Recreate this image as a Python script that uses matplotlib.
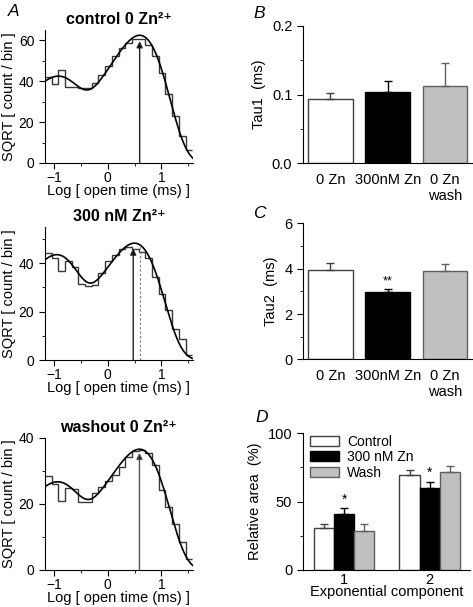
import numpy as np
import matplotlib
matplotlib.use("Agg")
import matplotlib.pyplot as plt
from matplotlib.patches import Patch
from matplotlib.ticker import MultipleLocator

plt.rcParams['font.family'] = ['Liberation Sans', 'DejaVu Sans']
plt.rcParams['font.size'] = 10

# --- dwell-time histograms (sqrt count / bin), 22 log bins ---
bin_start = -1.173
bin_width = 0.125
hist_control = [42.0, 38.5, 45.3, 37.2, 37.0, 36.8, 36.8, 38.9, 43.0, 47.2, 52.5,
                56.0, 58.5, 60.6, 60.6, 57.9, 52.5, 44.0, 33.5, 22.8, 13.0, 6.3]
hist_zn = [44.2, 41.9, 36.6, 41.0, 38.5, 31.5, 30.6, 30.9, 36.0, 40.8, 43.3,
           45.7, 46.7, 46.0, 44.6, 42.0, 34.3, 27.4, 20.5, 12.9, 8.5, 2.0]
hist_wash = [28.4, 26.1, 21.0, 24.8, 24.6, 20.5, 20.5, 23.3, 25.1, 26.8, 28.8,
             31.1, 34.1, 35.9, 36.2, 35.4, 31.8, 24.1, 19.0, 14.0, 8.5, 3.4]
hist_titles = ['control 0 Zn²⁺', '300 nM Zn²⁺', 'washout 0 Zn²⁺']
hist_ylims = [65, 55, 40]
arrow_tops = [59.5, 46.0, 35.4]

# fitted two-exponential parameters for each histogram
fit_tau1 = [0.1, 0.1, 0.1]
fit_tau2 = [3.94, 3.15, 3.91]
fit_area1 = [0.28, 0.42, 0.315]
fit_total = [14709, 10900, 5290]

# --- summary bars ---
conditions = ['0 Zn', '300nM Zn', '0 Zn\nwash']
tau1_mean = [0.094, 0.1034, 0.113]
tau1_err = [0.0084, 0.0166, 0.033]
tau2_mean = [3.94, 2.99, 3.91]
tau2_err = [0.30, 0.10, 0.28]

components = ['1', '2']
area_labels = ['Control', '300 nM Zn', 'Wash']
area_control = [30.5, 69.8]
area_control_err = [2.9, 3.4]
area_zn = [40.7, 59.8]
area_zn_err = [4.3, 4.3]
area_wash = [28.8, 71.5]
area_wash_err = [4.6, 4.8]

face = ['white', 'black', '#c0c0c0']
edge = ['#404040', 'black', '#606060']


def sigworth(x, tau1, tau2, a1, total):
    t = 10.0 ** x
    g1 = (t / tau1) * np.exp(-t / tau1)
    g2 = (t / tau2) * np.exp(-t / tau2)
    return np.sqrt(total * (a1 * g1 + (1 - a1) * g2))


fig = plt.figure(figsize=(4.73, 6.07), dpi=100)

hist_boxes = [(0.0945, 0.7315, 0.3135, 0.2191),
              (0.0945, 0.4069, 0.3135, 0.2196),
              (0.0945, 0.0610, 0.3135, 0.2180)]
hists = [hist_control, hist_zn, hist_wash]
edges = bin_start + bin_width * np.arange(len(hist_control) + 1)
xfit = np.linspace(-1.175, 1.59, 400)

for i, box in enumerate(hist_boxes):
    ax = fig.add_axes(box)
    ax.stairs(hists[i], edges, baseline=None, color='#383838', lw=1.0)
    ax.plot(xfit, sigworth(xfit, fit_tau1[i], fit_tau2[i], fit_area1[i], fit_total[i]),
            color='black', lw=1.2)
    peak_x = np.log10(tau2_mean[i])
    arrow_col = '#555555' if i == 2 else '#222222'
    ax.annotate('', xy=(peak_x, arrow_tops[i]), xytext=(peak_x, 0),
                arrowprops=dict(arrowstyle='-|>', color=arrow_col, lw=1.0,
                                mutation_scale=9, shrinkA=0, shrinkB=0,
                                fc='black', ec=arrow_col))
    if i == 1:
        cx = np.log10(tau2_mean[0])
        top = sigworth(cx, fit_tau1[i], fit_tau2[i], fit_area1[i], fit_total[i])
        ax.plot([cx, cx], [0, top], ls=(0, (2, 2)), color='#777777', lw=0.8)
    ax.set_xlim(-1.175, 1.59)
    ax.set_ylim(0, hist_ylims[i])
    ax.xaxis.set_major_locator(MultipleLocator(1))
    ax.xaxis.set_minor_locator(MultipleLocator(0.5))
    ax.yaxis.set_major_locator(MultipleLocator(20))
    ax.yaxis.set_minor_locator(MultipleLocator(10))
    ax.spines[['top', 'right']].set_visible(False)
    ax.tick_params(which='major', length=4, labelsize=10)
    ax.tick_params(axis='x', which='major', pad=2)
    ax.tick_params(which='minor', length=2.5)
    ax.set_xlabel('Log [ open time (ms) ]', fontsize=10.5, labelpad=-1)
    ax.set_ylabel('SQRT [ count / bin ]', fontsize=10.5, labelpad=2)
    ax.set_title(hist_titles[i], fontsize=11.5, fontweight='bold', pad=4)

# --- B and C ---
xpos = np.arange(len(conditions))
bar_sets = [(0.640, 0.731, 0.3573, 0.2262, tau1_mean, tau1_err, 0.2, 0.1, 0.05, 'Tau1  (ms)'),
            (0.640, 0.408, 0.3573, 0.2240, tau2_mean, tau2_err, 6, 2, 1, 'Tau2  (ms)')]
for left, bottom, w, h, means, errs, ymax, major, minor, lab in bar_sets:
    ax = fig.add_axes((left, bottom, w, h))
    for j in range(len(conditions)):
        ax.bar(xpos[j], means[j], width=0.78, color=face[j], edgecolor=edge[j], lw=1.0)
        ax.errorbar(xpos[j], means[j], yerr=[[0], [errs[j]]], color=edge[j],
                    capsize=3, lw=1.0, capthick=1.0)
    ax.set_xlim(-0.485, 2.47)
    ax.set_ylim(0, ymax)
    ax.set_xticks(xpos)
    ax.set_xticklabels(conditions, fontsize=10.5)
    ax.tick_params(axis='x', length=0, pad=7)
    ax.yaxis.set_major_locator(MultipleLocator(major))
    ax.yaxis.set_minor_locator(MultipleLocator(minor))
    ax.tick_params(axis='y', which='major', length=4, labelsize=10.5)
    ax.tick_params(axis='y', which='minor', length=2.5)
    ax.spines[['top', 'right']].set_visible(False)
    ax.set_ylabel(lab, fontsize=10.5)
    if lab.startswith('Tau2'):
        ax.text(1, 3.45, '**', ha='center', va='center', fontsize=9)

# --- D ---
ax = fig.add_axes((0.640, 0.061, 0.3537, 0.2252))
gx = np.arange(1, len(components) + 1)
bw = 0.235
series = [(area_control, area_control_err), (area_zn, area_zn_err), (area_wash, area_wash_err)]
for j, (vals, errs) in enumerate(series):
    xs = gx + (j - 1) * bw
    ax.bar(xs, vals, width=bw, color=face[j], edgecolor=edge[j], lw=1.0, label=area_labels[j])
    ax.errorbar(xs, vals, yerr=[[0] * len(errs), errs], fmt='none', ecolor=edge[j],
                capsize=3, lw=1.0, capthick=1.0)
ax.text(1, 51, '*', ha='center', va='center', fontsize=10)
ax.text(2, 71, '*', ha='center', va='center', fontsize=10)
ax.set_xlim(0.512, 2.475)
ax.set_ylim(0, 100)
ax.set_xticks(gx)
ax.set_xticklabels(components, fontsize=10.5)
ax.tick_params(axis='x', length=0, pad=2)
ax.yaxis.set_major_locator(MultipleLocator(50))
ax.yaxis.set_minor_locator(MultipleLocator(25))
ax.tick_params(axis='y', which='major', length=4, labelsize=10.5)
ax.tick_params(axis='y', which='minor', length=2.5)
ax.spines[['top', 'right']].set_visible(False)
ax.set_ylabel('Relative area  (%)', fontsize=10.5)
ax.set_xlabel('Exponential component', fontsize=10.5, labelpad=-1)
handles = [Patch(facecolor=face[j], edgecolor=edge[j], lw=1.0) for j in range(3)]
ax.legend(handles, area_labels, loc='upper left', bbox_to_anchor=(0.0, 1.04),
          frameon=False, fontsize=10, handlelength=2.1, handleheight=0.7,
          handletextpad=0.6, labelspacing=0.1, borderaxespad=0.1)

# panel letters
for letter, (lx, ly) in zip('ABCD', [(8, 12), (253, 13), (253, 213), (255, 418)]):
    fig.text(lx / 473, 1 - ly / 607, letter, fontsize=12.5, style='italic',
             ha='left', va='center')

fig.savefig('out.png', dpi=100)
